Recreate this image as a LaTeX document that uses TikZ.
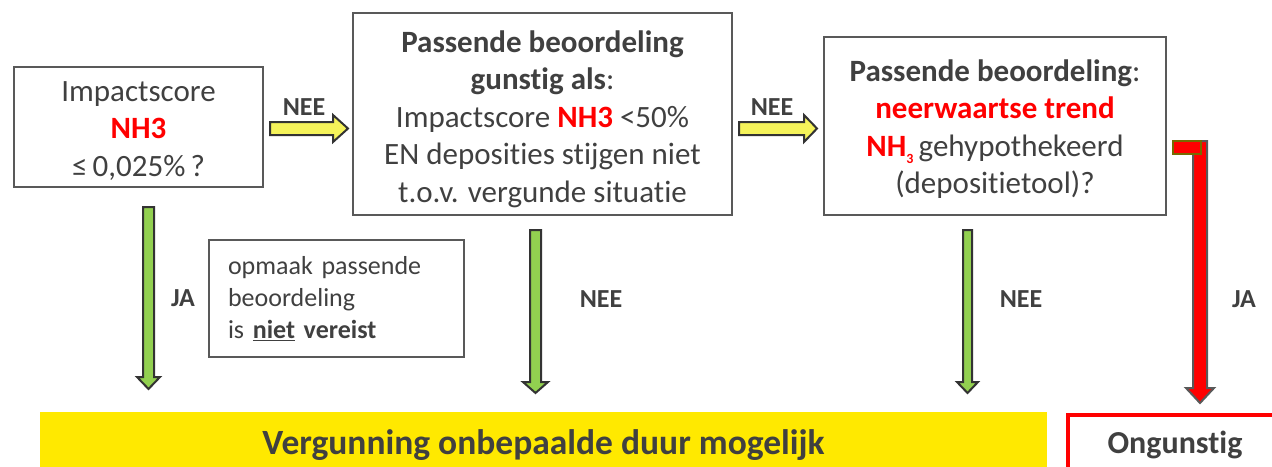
\documentclass[tikz,border=0pt]{standalone}
\usepackage{fontspec}
\setmainfont[Ligatures=NoCommon]{Carlito}
\definecolor{txt}{HTML}{404040}
\definecolor{boxgray}{HTML}{595959}
\definecolor{nhred}{HTML}{FF0000}
\definecolor{arrdark}{HTML}{333333}
\definecolor{arrgreen}{HTML}{92D050}
\definecolor{arryellow}{HTML}{F5F35A}
\definecolor{baryellow}{HTML}{FFE900}
\definecolor{olive}{HTML}{776B00}
% style, x centre, y top, y tip, shaft half width, head half width, head length
\newcommand\blockdown[7]{%
  \draw[#1] (#2-#5,#3) -- (#2+#5,#3) -- (#2+#5,#4-#7) -- (#2+#6,#4-#7)
    -- (#2,#4) -- (#2-#6,#4-#7) -- (#2-#5,#4-#7) -- cycle;}
% style, x start, x tip, y centre, shaft half width, head half width, head length
\newcommand\blockright[7]{%
  \draw[#1] (#2,#4-#5) -- (#3-#7,#4-#5) -- (#3-#7,#4-#6) -- (#3,#4)
    -- (#3-#7,#4+#6) -- (#3-#7,#4+#5) -- (#2,#4+#5) -- cycle;}
\tikzset{
  qbox/.style={draw=boxgray, line width=2.5pt, inner sep=0pt},
  qtext/.style={align=center, inner sep=0pt, text=txt, font=\fontsize{31}{37.5}\selectfont},
  lbl/.style={text=txt, font=\fontsize{26}{30}\selectfont\bfseries, inner sep=0pt},
  garrow/.style={fill=arrgreen, draw=arrdark, line width=2pt, line join=miter},
  yarrow/.style={fill=arryellow, draw=arrdark, line width=2pt, line join=miter},
  rarrow/.style={fill=nhred, draw=boxgray, line width=2pt, line join=miter}
}
\begin{document}
\begin{tikzpicture}[x=1pt,y=-1pt]
\useasboundingbox (0,0) rectangle (1272,466);
\clip (0,0) rectangle (1272,466);

% decision boxes
\node[qbox, minimum width=249pt, minimum height=120pt] (q1) at (138.5,127) {};
\node[qtext] (t1) at ([yshift=-4pt]q1.center)
  {Impactscore\\\textbf{\color{nhred}NH3}\\≤\,0,025\%\,?};
\node[qbox, minimum width=379pt, minimum height=202pt] (q2) at (542.5,114) {};
\node[qtext] (t2) at ([yshift=-5pt]q2.center)
  {\textbf{Passende beoordeling}\\\textbf{gunstig als}:\\Impactscore \textbf{\color{nhred}NH3} <50\%\\EN deposities stijgen niet\\t.o.v. vergunde situatie};
\node[qbox, minimum width=342pt, minimum height=178pt] (q3) at (995,126) {};
\node[qtext] (t3) at ([yshift=-3pt]q3.center)
  {\textbf{Passende beoordeling}:\\\textbf{\color{nhred}neerwaartse trend}\\{\color{nhred}\textbf{NH}\raisebox{-7pt}{\fontsize{14}{14}\selectfont\textbf{3}}}\,gehypothekeerd\\(depositietool)?};

% note box
\node[draw=boxgray, line width=2.5pt, minimum width=255pt, minimum height=117pt,
  text width=217pt, inner xsep=19pt, inner ysep=0pt, align=left, text=txt,
  font=\fontsize{26}{32}\selectfont] (note) at (336.5,298.5)
  {opmaak passende\\beoordeling\\is \textbf{\underline{niet}} \textbf{vereist}};

% result bars
\fill[baryellow] (40,412) rectangle (1047,480);
\node[text=txt, font=\fontsize{35.5}{40}\selectfont\bfseries, inner sep=0pt] (res1) at (543.5,445)
  {Vergunning onbepaalde duur mogelijk};
\draw[nhred, line width=4.5pt] (1068,415) rectangle (1300,490);
\node[text=txt, font=\fontsize{32}{38}\selectfont\bfseries, inner sep=0pt] (res2) at (1175,445)
  {Ongunstig};

% horizontal arrows
\blockright{yarrow}{270}{348}{128.5}{6.5}{13.5}{15}
\blockright{yarrow}{739}{817}{128.5}{6.5}{13.5}{13}
\node[lbl] (nee1) at (304,107) {NEE};
\node[lbl] (nee2) at (772,107) {NEE};

% vertical arrows
\blockdown{garrow}{148.5}{207}{389}{5.5}{11.5}{12}
\blockdown{garrow}{535.5}{230}{393}{5.5}{12.5}{11}
\blockdown{garrow}{967.5}{230}{393}{4.5}{10.5}{11}
\blockdown{rarrow}{1200}{141}{403}{7}{14}{15}
\draw[fill=nhred, draw=olive, line width=2pt] (1173,141) rectangle (1201,154);

\node[lbl] (ja1) at (183,298) {JA};
\node[lbl] (nee3) at (601,299) {NEE};
\node[lbl] (nee4) at (1021,299) {NEE};
\node[lbl] (ja2) at (1244,299) {JA};
\end{tikzpicture}
\end{document}
